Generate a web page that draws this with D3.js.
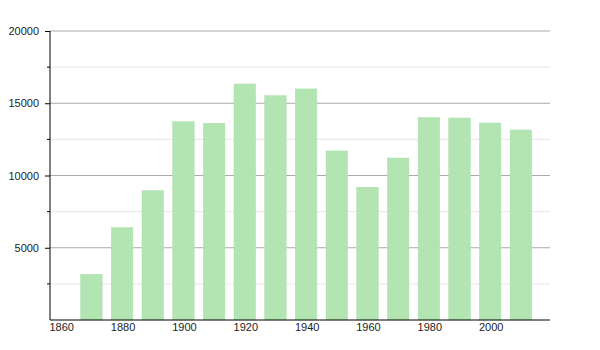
<!DOCTYPE html>
<html>
<head>
<meta charset="utf-8">
<script src="https://cdn.jsdelivr.net/npm/d3@7"></script>
<style>
  body { margin: 0; background: #fff; }
  svg { display: block; font-family: "Liberation Sans", Arial, sans-serif; }
</style>
</head>
<body>
<div id="chart"></div>
<script>
// Population by census year
const years = [1870, 1880, 1890, 1900, 1910, 1920, 1930, 1940, 1950, 1960, 1970, 1980, 1990, 2000, 2010];
const population = [3160, 6390, 8950, 13720, 13610, 16330, 15520, 15990, 11700, 9190, 11210, 14000, 13980, 13630, 13150];
const yearTicks = [1860, 1880, 1900, 1920, 1940, 1960, 1980, 2000];
const majorTicks = [5000, 10000, 15000, 20000];
const minorTicks = [2500, 7500, 12500, 17500];

const width = 600, height = 350;
const margin = { top: 31, right: 50, bottom: 30, left: 50 };

const svg = d3.select("#chart").append("svg")
    .attr("width", width)
    .attr("height", height);

const x = d3.scaleLinear()
    .domain([1860, 2023])
    .range([margin.left, width - margin.right]);

const y = d3.scaleLinear()
    .domain([0, 20000])
    .range([height - margin.bottom, margin.top]);

// Gridlines
svg.append("g")
    .selectAll("line")
    .data(minorTicks)
    .join("line")
    .attr("x1", margin.left).attr("x2", width - margin.right)
    .attr("y1", d => y(d)).attr("y2", d => y(d))
    .attr("stroke", "#e6e6e6");

svg.append("g")
    .selectAll("line")
    .data(majorTicks)
    .join("line")
    .attr("x1", margin.left).attr("x2", width - margin.right)
    .attr("y1", d => y(d)).attr("y2", d => y(d))
    .attr("stroke", "#aaaaaa");

// Bars (each bar covers 7 years starting at its year)
svg.append("g")
    .selectAll("rect")
    .data(years)
    .join("rect")
    .attr("x", d => x(d))
    .attr("width", d => x(d + 7) - x(d))
    .attr("y", (d, i) => y(population[i]))
    .attr("height", (d, i) => y(0) - y(population[i]))
    .attr("fill", "#b3e5b3")
    .attr("stroke", "#a9dca9")
    .attr("stroke-width", 0.5);

// Y axis
const yAxis = svg.append("g")
    .attr("transform", `translate(${margin.left},0)`)
    .call(d3.axisLeft(y).tickValues(majorTicks).tickSize(5).tickFormat(d3.format("d")));
yAxis.select(".domain").attr("stroke", "#000").attr("d", `M0,${y(20000)}V${y(0)}`);
yAxis.selectAll("text").style("font-size", "11px").attr("fill", "#222").attr("x", -11);

svg.append("g")
    .selectAll("line")
    .data(minorTicks)
    .join("line")
    .attr("x1", margin.left - 3).attr("x2", margin.left)
    .attr("y1", d => y(d)).attr("y2", d => y(d))
    .attr("stroke", "#000");

// X axis
const xAxis = svg.append("g")
    .attr("transform", `translate(0,${y(0)})`)
    .call(d3.axisBottom(x).tickValues(yearTicks).tickSize(0).tickFormat(d3.format("d")));
xAxis.select(".domain").attr("stroke", "#000").attr("d", `M${margin.left},0H${width - margin.right}`);
xAxis.selectAll("text")
    .style("font-size", "11px")
    .attr("fill", "#222")
    .attr("text-anchor", "start")
    .attr("x", -1)
    .attr("dy", "0.71em")
    .attr("y", 3);
</script>
</body>
</html>
